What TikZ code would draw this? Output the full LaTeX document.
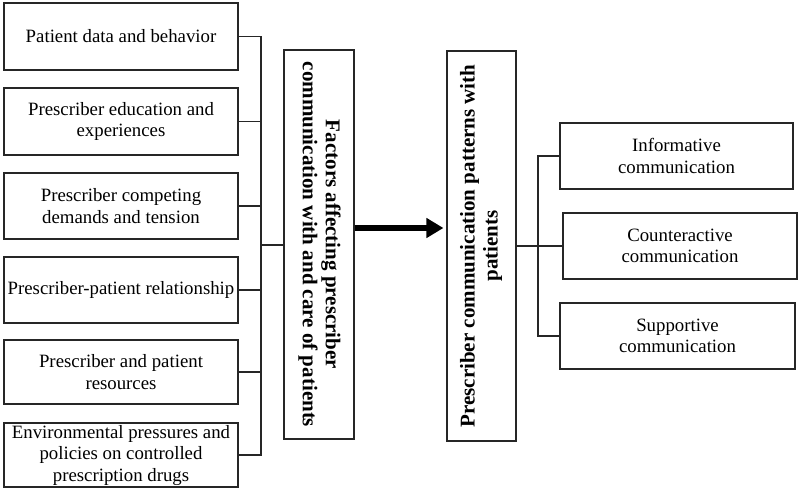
\documentclass[tikz,border=0pt]{standalone}
\usepackage{fontspec}
\setmainfont{Liberation Serif}
\usepackage{graphicx}
\usetikzlibrary{arrows.meta}
\begin{document}
\begin{tikzpicture}[x=1pt,y=-1pt,
  box/.style={draw=black!85,line width=1.1pt,inner sep=0pt,align=center,font=\fontsize{18.8}{21.5}\selectfont},
  vbox/.style={draw=black!85,line width=1.1pt,inner sep=0pt,font=\bfseries\fontsize{21}{23}\selectfont},
  link/.style={draw=black!85,line width=1.1pt},
  bigarrow/.style={line width=6pt,-{Triangle[length=17pt,width=19pt]}}]
\useasboundingbox (0,0) rectangle (800,491);
% left factor boxes
\node[box,minimum width=234pt,minimum height=67pt] (l1) at (121,36.5) {Patient data and behavior};
\node[box,minimum width=234pt,minimum height=67pt] (l2) at (121,121.5) {Prescriber education and\\experiences};
\node[box,minimum width=234pt,minimum height=66pt] (l3) at (121,206) {Prescriber competing\\demands and tension};
\node[box,minimum width=234pt,minimum height=66pt] (l4) at (121,290) {Prescriber-patient relationship};
\node[box,minimum width=234pt,minimum height=64pt] (l5) at (121,372) {Prescriber and patient\\resources};
\node[box,minimum width=234pt,minimum height=64pt] (l6) at (121,455) {Environmental pressures and\\policies on controlled\\prescription drugs};
% vertical boxes
\node[vbox,minimum width=70pt,minimum height=389pt] (f) at (319,244.5)
  {\rotatebox{-90}{\begin{tabular}{@{}c@{}}Factors affecting prescriber\\communication with and care of patients\end{tabular}}};
\node[vbox,minimum width=69pt,minimum height=390pt] (p) at (481.5,246)
  {\rotatebox{90}{\begin{tabular}{@{}c@{}}Prescriber communication patterns with\\patients\end{tabular}}};
% right boxes
\node[box,minimum width=233pt,minimum height=66pt] (r1) at (676.5,156) {Informative\\communication};
\node[box,minimum width=234pt,minimum height=66pt] (r2) at (680,246) {Counteractive\\communication};
\node[box,minimum width=235pt,minimum height=66pt] (r3) at (677.5,336) {Supportive\\communication};
% left bracket
\coordinate (bl) at (261,245);
\draw[link] (l1.east) -| (l6.east -| bl) -- (l6.east);
\foreach \n in {l2,l3,l4,l5} \draw[link] (\n.east) -- (\n.east -| bl);
\draw[link] (bl) -- (bl -| f.west);
% arrow
\coordinate (ay) at (0,228);
\draw[bigarrow,shorten >=3pt] (ay -| f.east) -- (ay -| p.west);
% right bracket
\coordinate (br) at (538,246);
\draw[link] (r1.west) -| (r3.west -| br) -- (r3.west);
\draw[link] (r2.west) -- (r2.west -| br);
\draw[link] (p.east) -- (p.east -| br);
\end{tikzpicture}
\end{document}
